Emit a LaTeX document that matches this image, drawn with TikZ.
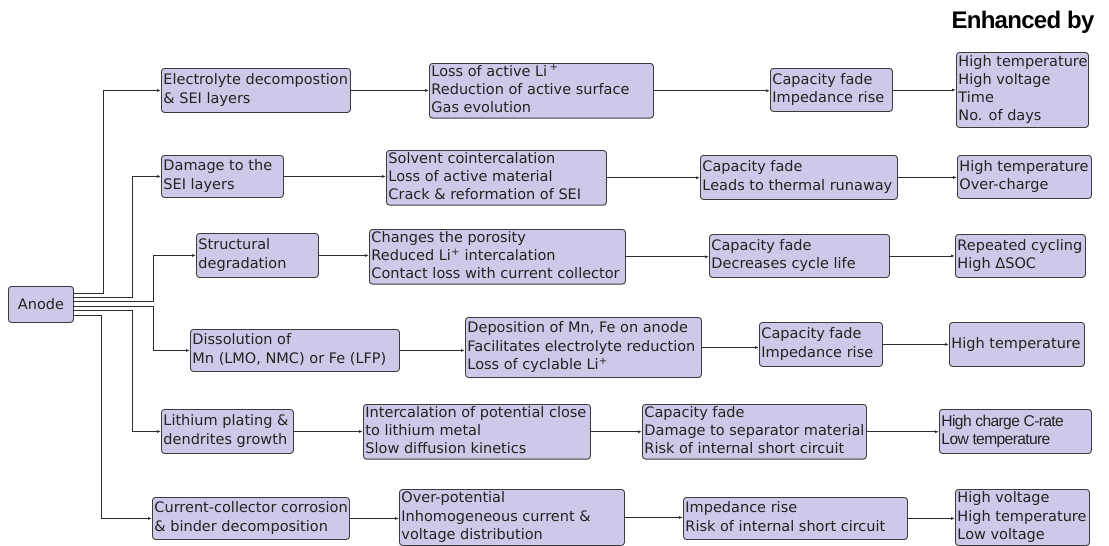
\documentclass[tikz,border=0pt]{standalone}
\usepackage{fontspec}
\setmainfont{DejaVu Sans}
\newfontfamily\narrowfont[LetterSpace=-4]{Liberation Sans}
\newfontfamily\titlefont[LetterSpace=-3]{Liberation Sans}
\usetikzlibrary{arrows.meta}
\definecolor{boxfill}{RGB}{208,200,232}
\definecolor{boxline}{RGB}{60,60,60}
\definecolor{txt}{RGB}{35,35,35}
\definecolor{conn}{RGB}{45,45,45}
\tikzset{
  box/.style={draw=boxline, fill=boxfill, line width=0.9pt, rounded corners=3pt,
    inner xsep=2pt, inner ysep=0pt, anchor=north west, text=txt,
    font=\fontsize{14.5}{18.2}\selectfont},
  arr/.style={draw=conn, line width=0.8pt, -{Latex[length=4pt,width=3pt]}},
}
\newcommand\bx[7][]{%
  \pgfmathsetmacro\bw{#5-#3}\pgfmathsetmacro\bh{#6-#4}\pgfmathsetmacro\tw{#5-#3-4}%
  \node[box, minimum width=\bw pt, minimum height=\bh pt, #1] (#2) at (#3,#4)
    {\makebox[\tw pt][l]{\begin{tabular}{@{}l@{}}#7\end{tabular}}};}
\begin{document}
\begin{tikzpicture}[x=1pt,y=-1pt]
\useasboundingbox (0,0) rectangle (1109,546);

\node[anchor=base west, text=black, font=\titlefont\bfseries\fontsize{24}{28}\selectfont] (title) at (948,28) {Enhanced by};

% Anode
\node[box, minimum width=65pt, minimum height=36pt, anchor=north west] (anode) at (8,286) {Anode};

% Row 1
\bx{A1}{161}{68}{350}{112}{Electrolyte decompostion\\\& SEI layers}
\bx{B1}{429}{63}{653}{117}{Loss of active Li\,\textsuperscript{+}\\Reduction of active surface\\Gas evolution}
\bx{C1}{770}{68}{892}{111}{Capacity fade\\Impedance rise}
\bx{D1}{956}{52}{1088}{127}{High temperature\\High voltage\\Time\\No. of days}
% Row 2
\bx{A2}{161}{155}{283}{197}{Damage to the\\SEI layers}
\bx{B2}{386}{150}{606}{203}{Solvent cointercalation\\Loss of active material\\Crack \& reformation of SEI}
\bx{C2}{700}{155}{897}{199}{Capacity fade\\Leads to thermal runaway}
\bx{D2}{957}{155}{1091}{198}{High temperature\\Over-charge}
% Row 3
\bx{A3}{196}{233}{318}{277}{Structural\\degradation}
\bx{B3}{369}{229}{625}{283}{Changes the porosity\\Reduced Li\textsuperscript{+} intercalation\\Contact loss with current collector}
\bx{C3}{709}{234}{889}{277}{Capacity fade\\Decreases cycle life}
\bx{D3}{955}{234}{1085}{277}{Repeated cycling\\High ΔSOC}
% Row 4
\bx{A4}{190}{329}{399}{371}{Dissolution of\\Mn (LMO, NMC) or Fe (LFP)}
\bx{B4}{465}{317}{701}{377}{Deposition of Mn, Fe on anode\\Facilitates electrolyte reduction\\Loss of cyclable Li\textsuperscript{+}}
\bx{C4}{759}{322}{882}{366}{Capacity fade\\Impedance rise}
\bx{D4}{949}{322}{1084}{366}{High temperature}
% Row 5
\bx{A5}{161}{409}{293}{453}{Lithium plating \&\\dendrites growth}
\bx{B5}{363}{404}{590}{458}{Intercalation of potential close\\to lithium metal\\Slow diffusion kinetics}
\bx{C5}{642}{404}{866}{458}{Capacity fade\\Damage to separator material\\Risk of internal short circuit}
\bx[font=\narrowfont\fontsize{15.6}{18}\selectfont]{D5}{939}{409}{1091}{453}{High charge C-rate\\Low temperature}
% Row 6
\bx{A6}{152}{497}{349}{539}{Current-collector corrosion\\\& binder decomposition}
\bx{B6}{399}{489}{624}{545}{Over-potential\\Inhomogeneous current \&\\voltage distribution}
\bx{C6}{683}{497}{907}{539}{Impedance rise\\Risk of internal short circuit}
\bx{D6}{955}{489}{1089}{545}{High voltage\\High temperature\\Low voltage}

% Anode branches
\draw[arr] ([yshift=11.3pt]anode.east) -- ++(29,0) |- (A1.west);
\draw[arr] ([yshift=6.7pt]anode.east) -- ++(58.7,0) |- (A2.west);
\draw[arr] ([yshift=2.7pt]anode.east) -- ++(79.3,0) |- (A3.west);
\draw[arr] ([yshift=-1.7pt]anode.east) -- ++(79.3,0) |- (A4.west);
\draw[arr] ([yshift=-6pt]anode.east) -- ++(58.7,0) |- (A5.west);
\draw[arr] ([yshift=-10.7pt]anode.east) -- ++(27,0) |- (A6.west);

% Row connectors
\foreach \r in {1,...,6}{
  \draw[arr] (A\r.east) -- (A\r.east -| B\r.west);
  \draw[arr] (B\r.east) -- (B\r.east -| C\r.west);
  \draw[arr] (C\r.east) -- (C\r.east -| D\r.west);
}
\end{tikzpicture}
\end{document}
